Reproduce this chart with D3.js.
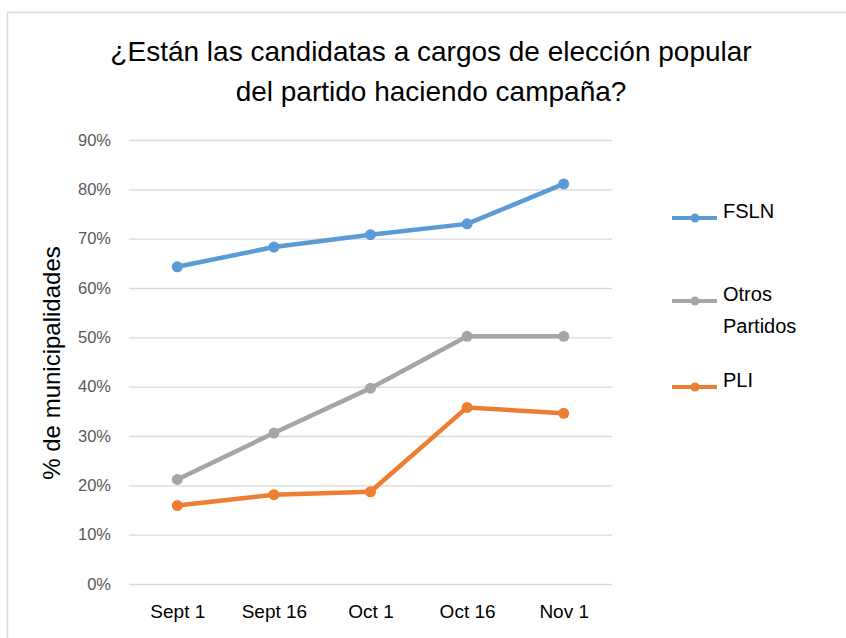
<!DOCTYPE html>
<html>
<head>
<meta charset="utf-8">
<script src="https://cdn.jsdelivr.net/npm/d3@7"></script>
<style>
  body { margin: 0; background: #fff; }
  svg { display: block; }
</style>
</head>
<body>
<div id="chart"></div>
<script>
// Data
const dates = ["Sept 1", "Sept 16", "Oct 1", "Oct 16", "Nov 1"];
const fsln = [0.643, 0.683, 0.708, 0.730, 0.811];
const otros = [0.212, 0.306, 0.397, 0.502, 0.502];
const pli = [0.159, 0.181, 0.187, 0.358, 0.346];
const seriesNames = ["FSLN", "Otros Partidos", "PLI"];
const yTicks = [0, 0.1, 0.2, 0.3, 0.4, 0.5, 0.6, 0.7, 0.8, 0.9];

const colors = ["#5b9bd5", "#a5a5a5", "#ed7d31"];
const font = "'Liberation Sans', Arial, sans-serif";

const w = 846;
const h = 638;
const pLeft = 129, pRight = 612, pTop = 140, pBottom = 584;

const svg = d3.select("#chart").append("svg")
  .attr("width", w)
  .attr("height", h);

// chart border (runs off the right and bottom edge)
svg.append("rect")
  .attr("x", 7.5).attr("y", 12.5)
  .attr("width", 900).attr("height", 700)
  .attr("fill", "none")
  .attr("stroke", "#d9d9d9")
  .attr("stroke-width", 1.5);

// title
const title = svg.append("text")
  .attr("text-anchor", "middle")
  .attr("font-family", font)
  .attr("font-size", 28)
  .attr("fill", "#000");
title.append("tspan").attr("x", 431).attr("y", 61).text("¿Están las candidatas a cargos de elección popular");
title.append("tspan").attr("x", 431).attr("y", 101).text("del partido haciendo campaña?");

// scales
const x = d3.scalePoint()
  .domain(dates)
  .range([pLeft, pRight])
  .padding(0.5);
const y = d3.scaleLinear()
  .domain([0, 0.9])
  .range([pBottom, pTop]);

// gridlines
const yAxis = d3.axisLeft(y)
  .tickValues(yTicks)
  .tickSize(-(pRight - pLeft))
  .tickPadding(18)
  .tickFormat(d3.format(".0%"));
const gy = svg.append("g")
  .attr("transform", "translate(" + pLeft + ",0)")
  .call(yAxis);
gy.select(".domain").remove();
gy.selectAll(".tick line").attr("stroke", "#d9d9d9").attr("stroke-width", 1.3);
gy.selectAll(".tick text")
  .attr("font-family", font)
  .attr("font-size", 16.5)
  .attr("fill", "#595959");

// x axis labels
const xAxis = d3.axisBottom(x).tickSize(0).tickPadding(21);
const gx = svg.append("g")
  .attr("transform", "translate(0," + pBottom + ")")
  .call(xAxis);
gx.select(".domain").remove();
gx.selectAll(".tick text")
  .attr("font-family", font)
  .attr("font-size", 19)
  .attr("fill", "#000");

// y axis title
svg.append("text")
  .attr("transform", "translate(60,363) rotate(-90)")
  .attr("text-anchor", "middle")
  .attr("font-family", font)
  .attr("font-size", 24)
  .attr("fill", "#000")
  .text("% de municipalidades");

// lines
const seriesData = [fsln, otros, pli];
const line = d3.line()
  .x((d, i) => x(dates[i]))
  .y(d => y(d));

seriesData.forEach((vals, s) => {
  svg.append("path")
    .datum(vals)
    .attr("d", line)
    .attr("fill", "none")
    .attr("stroke", colors[s])
    .attr("stroke-width", 4.5)
    .attr("stroke-linejoin", "round");
  svg.selectAll(".pt" + s)
    .data(vals)
    .enter()
    .append("circle")
    .attr("cx", (d, i) => x(dates[i]))
    .attr("cy", d => y(d))
    .attr("r", 5.5)
    .attr("fill", colors[s]);
});

// legend
const legendY = [218, 301, 387];
const legend = svg.append("g");
seriesNames.forEach((name, s) => {
  const g = legend.append("g").attr("transform", "translate(0," + legendY[s] + ")");
  g.append("line")
    .attr("x1", 672).attr("x2", 717)
    .attr("stroke", colors[s]).attr("stroke-width", 4);
  g.append("circle").attr("cx", 695).attr("r", 4.5).attr("fill", colors[s]);
  const t = g.append("text")
    .attr("font-family", font)
    .attr("font-size", 20)
    .attr("fill", "#000")
    .attr("dy", "0.35em");
  const words = name.split(" ");
  words.forEach((wd, k) => {
    t.append("tspan").attr("x", 723).attr("dy", k === 0 ? 0 : 32).text(wd);
  });
});
</script>
</body>
</html>
